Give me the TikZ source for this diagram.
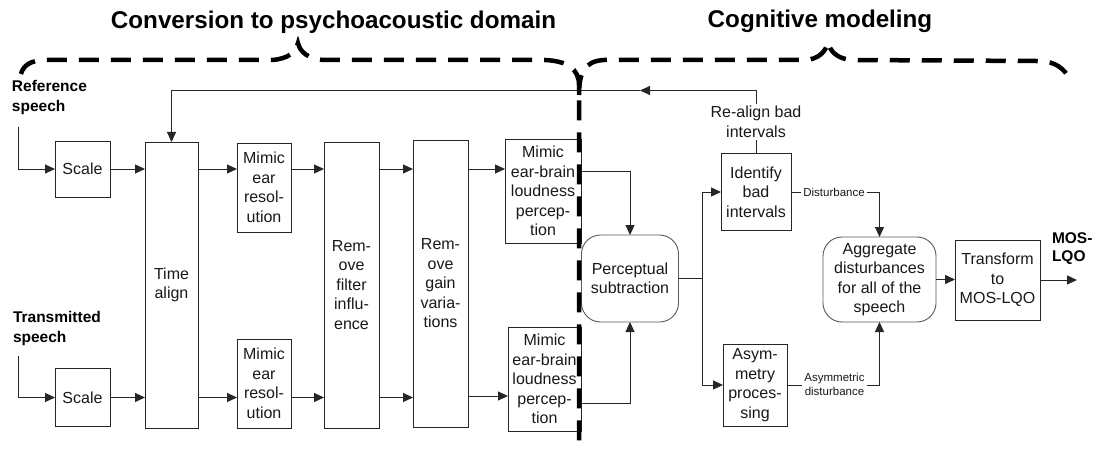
\documentclass[tikz,border=0pt]{standalone}
\usepackage{fontspec}
\setmainfont{Liberation Sans}
\usetikzlibrary{arrows.meta,calc}

\begin{document}
\begin{tikzpicture}[x=1pt,y=-1pt,
  every node/.style={inner sep=0pt, outer sep=0pt},
  blk/.style={draw=black!85, line width=0.9pt, fill=white, align=center,
    text=black!90, font=\fontsize{16}{19.5}\selectfont},
  rblk/.style={blk, rounded corners=19pt},
  conn/.style={draw=black!85, line width=0.9pt},
  arr/.style={conn, -{Triangle[length=10pt,width=9pt]}},
  brace/.style={draw=black, line width=4.5pt, dash pattern=on 20pt off 12pt},
  heading/.style={font=\fontsize{24.2}{28}\selectfont\bfseries, text=black},
  sigtext/.style={font=\fontsize{15.5}{20.5}\selectfont\bfseries, align=left, text=black},
  smalllbl/.style={font=\fontsize{11.5}{14}\selectfont, fill=white, inner xsep=2pt,
    inner ysep=1pt, align=center, text=black!90},
  midlbl/.style={font=\fontsize{16}{19.5}\selectfont, fill=white, inner xsep=1pt,
    inner ysep=2pt, align=center, text=black!90}
]
\useasboundingbox (0,0) rectangle (1102,449);

% section headings
\node[heading, anchor=base] (hconv) at (333.5,28.5) {Conversion to psychoacoustic domain};
\node[heading, anchor=base] (hcog) at (820,28) {Cognitive modeling};

% input labels
\node[sigtext, anchor=north west] (lref) at (12,80) {Reference\\speech};
\node[sigtext, anchor=north west] (ltx) at (13,311) {Transmitted\\speech};

% processing blocks
\node[blk, minimum width=55, minimum height=56] (scale1) at (82.5,169) {Scale};
\node[blk, minimum width=55, minimum height=58] (scale2) at (82.5,397.5) {Scale};
\node[blk, minimum width=53, minimum height=286] (talign) at (171.5,285) {Time\\align};
\node[blk, minimum width=54, minimum height=89] (ear1) at (264,187.5) {Mimic\\ear\\resol-\\ution};
\node[blk, minimum width=54, minimum height=89] (ear2) at (264,383.5) {Mimic\\ear\\resol-\\ution};
\node[blk, minimum width=55, minimum height=286] (remf) at (351.5,285) {Rem-\\ove\\filter\\influ-\\ence};
\node[blk, minimum width=55, minimum height=287] (remg) at (440.5,283.5) {Rem-\\ove\\gain\\varia-\\tions};
\node[blk, minimum width=76, minimum height=104] (eb1) at (543,191) {Mimic\\ear-brain\\loudness\\percep-\\tion};
\node[blk, minimum width=73, minimum height=104] (eb2) at (544.5,379) {Mimic\\ear-brain\\loudness\\percep-\\tion};
\node[rblk, draw=black!65, minimum width=97, minimum height=87] (percep) at (630,278.5) {Perceptual\\subtraction};
\node[blk, minimum width=70, minimum height=77] (ident) at (756,192) {Identify\\bad\\intervals};
\node[blk, minimum width=64, minimum height=82] (asym) at (755,385) {Asym-\\metry\\proces-\\sing};
\node[rblk, draw=black!65, minimum width=113, minimum height=85] (agg) at (879.5,279.5) {Aggregate\\disturbances\\for all of the\\speech};
\node[blk, minimum width=85, minimum height=80] (trans) at (997.5,280) {Transform\\to\\MOS-LQO};
\node[sigtext, anchor=north west, font=\fontsize{15.5}{18}\selectfont\bfseries] (mos) at (1052,233) {MOS-\\LQO};

% free ends and junctions
\coordinate (refin) at (18,127);
\coordinate (txin) at (18,356);
\coordinate (split) at (702,278.5);
\coordinate (out) at (1077,280);
\path (ident.north) ++(0,-63) coordinate (fbR);
\path (fbR) ++(-116,0) coordinate (fbM);

% inputs
\draw[arr] (refin) |- (scale1.west);
\draw[arr] (txin) |- (scale2.west);

% reference path
\draw[arr] (scale1.east) -- (talign.west |- scale1.east);
\draw[arr] (talign.east |- scale1.east) -- (ear1.west |- scale1.east);
\draw[arr] (ear1.east |- scale1.east) -- (remf.west |- scale1.east);
\draw[arr] (remf.east |- scale1.east) -- (remg.west |- scale1.east);
\draw[arr] (remg.east |- scale1.east) -- (eb1.west |- scale1.east);

% transmitted path
\draw[arr] (scale2.east) -- (talign.west |- scale2.east);
\draw[arr] (talign.east |- scale2.east) -- (ear2.west |- scale2.east);
\draw[arr] (ear2.east |- scale2.east) -- (remf.west |- scale2.east);
\draw[arr] (remf.east |- scale2.east) -- (remg.west |- scale2.east);
\draw[arr] ([yshift=1.5pt]remg.east |- scale2.east) -- ([yshift=1.5pt]eb2.west |- scale2.east);

% into the perceptual subtraction
\draw[arr] ([yshift=20pt]eb1.east) -| (percep.north);
\draw[arr] ([yshift=-24pt]eb2.east) -| (percep.south);

% cognitive part
\draw[conn] (percep.east) -- (split);
\draw[arr] (split) |- (ident.west);
\draw[arr] (split) |- (asym.west);

\node[smalllbl] (dist) at (834,192) {Disturbance};
\draw[conn] (ident.east) -- (dist.west);
\draw[arr] (dist.east) -| (agg.north);

\node[smalllbl] (adist) at (834.5,384.5) {Asymmetric\\disturbance};
\draw[conn] (asym.east) -- (adist.west |- asym.east);
\draw[arr] (adist.east |- asym.east) -| (agg.south);

\draw[arr] (agg.east) -- (trans.west |- agg.east);
\draw[arr] (trans.east) -- (out);

% re-alignment feedback loop
\draw[conn] (ident.north) -- (fbR);
\draw[arr] (fbR) -- (fbM);
\draw[arr] (fbM) -- (talign.north |- fbR) -- (talign.north);
\node[midlbl] (realign) at ($(ident.north)!0.5!(fbR)$) {Re-align bad\\intervals};

% domain braces and divider
\draw[brace] (21,74) .. controls (23,66) and (30,60) .. (46,60) -- (272,60)
  .. controls (288,59) and (296,52) .. (298,43)
  .. controls (300,52) and (308,59) .. (324,60) -- (545,60)
  .. controls (566,61) and (579,68) .. (579,85) -- (579,449);
\draw[brace] (579,95) .. controls (579,72) and (585,61) .. (604,60) -- (806,60)
  .. controls (818,59) and (826,52) .. (828,42)
  .. controls (830,52) and (838,59) .. (852,60) -- (1036,61)
  .. controls (1050,61) and (1060,64) .. (1068,76);
\end{tikzpicture}
\end{document}
